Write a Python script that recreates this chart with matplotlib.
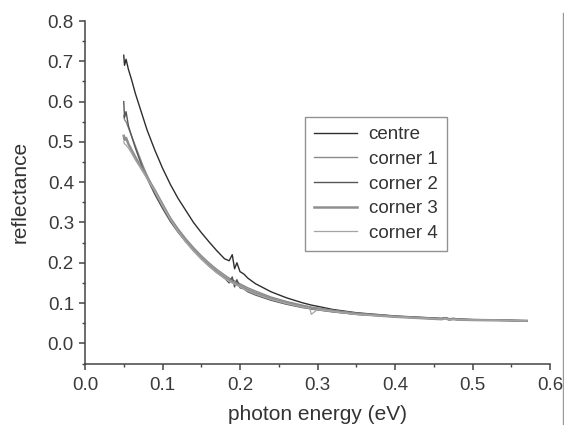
import matplotlib
matplotlib.use("Agg")
import matplotlib.pyplot as plt
from matplotlib.lines import Line2D
from matplotlib.ticker import MultipleLocator

plt.rcParams['font.family'] = ['Liberation Sans', 'DejaVu Sans']

energy = [0.050, 0.051, 0.053, 0.056, 0.060, 0.065, 0.070, 0.075, 0.080, 0.085,
          0.090, 0.100, 0.110, 0.120, 0.130, 0.140, 0.150, 0.160, 0.170, 0.180,
          0.186, 0.190, 0.193, 0.196, 0.200, 0.205, 0.210, 0.220, 0.240, 0.260,
          0.280, 0.290, 0.292, 0.300, 0.320, 0.350, 0.400, 0.450, 0.460, 0.465,
          0.470, 0.475, 0.480, 0.500, 0.540, 0.570]

centre = [0.715, 0.690, 0.705, 0.680, 0.655, 0.620, 0.590, 0.560, 0.530, 0.505,
          0.480, 0.435, 0.395, 0.360, 0.330, 0.300, 0.275, 0.252, 0.230, 0.210,
          0.205, 0.220, 0.185, 0.200, 0.178, 0.172, 0.162, 0.148, 0.128, 0.113,
          0.101, 0.096, 0.095, 0.092, 0.084, 0.076, 0.068, 0.063, 0.062, 0.064,
          0.061, 0.062, 0.061, 0.059, 0.058, 0.056]

corner1 = [0.565, 0.555, 0.550, 0.535, 0.515, 0.490, 0.465, 0.440, 0.418, 0.398,
           0.378, 0.343, 0.312, 0.285, 0.260, 0.238, 0.218, 0.200, 0.184, 0.170,
           0.162, 0.158, 0.155, 0.152, 0.148, 0.143, 0.138, 0.130, 0.115, 0.104,
           0.095, 0.091, 0.090, 0.088, 0.082, 0.075, 0.067, 0.062, 0.061, 0.063,
           0.060, 0.061, 0.060, 0.058, 0.057, 0.056]

corner2 = [0.600, 0.560, 0.575, 0.540, 0.515, 0.485, 0.458, 0.432, 0.410, 0.390,
           0.370, 0.335, 0.303, 0.276, 0.252, 0.230, 0.210, 0.192, 0.176, 0.162,
           0.150, 0.165, 0.140, 0.158, 0.138, 0.135, 0.128, 0.120, 0.107, 0.097,
           0.089, 0.086, 0.085, 0.083, 0.078, 0.072, 0.066, 0.061, 0.060, 0.063,
           0.058, 0.061, 0.059, 0.058, 0.057, 0.055]

corner3 = [0.515, 0.505, 0.510, 0.495, 0.480, 0.462, 0.445, 0.428, 0.412, 0.396,
           0.380, 0.345, 0.310, 0.280, 0.255, 0.232, 0.212, 0.194, 0.178, 0.164,
           0.157, 0.152, 0.150, 0.147, 0.143, 0.138, 0.133, 0.125, 0.111, 0.100,
           0.092, 0.088, 0.087, 0.085, 0.080, 0.073, 0.066, 0.061, 0.060, 0.062,
           0.059, 0.060, 0.059, 0.058, 0.057, 0.056]

corner4 = [0.500, 0.495, 0.492, 0.485, 0.472, 0.455, 0.440, 0.425, 0.410, 0.394,
           0.378, 0.342, 0.308, 0.278, 0.252, 0.229, 0.209, 0.191, 0.175, 0.161,
           0.154, 0.150, 0.147, 0.144, 0.140, 0.135, 0.130, 0.122, 0.109, 0.099,
           0.090, 0.087, 0.072, 0.084, 0.079, 0.072, 0.066, 0.061, 0.060, 0.062,
           0.059, 0.060, 0.059, 0.058, 0.057, 0.056]

labels = ['centre', 'corner 1', 'corner 2', 'corner 3', 'corner 4']
series = [centre, corner1, corner2, corner3, corner4]
colors = ['#2e2e2e', '#8a8a8a', '#555555', '#8f8f8f', '#a5a5a5']
widths = [1.0, 1.0, 1.0, 1.8, 0.9]

fig = plt.figure(figsize=(5.64, 4.25), dpi=100)
ax = fig.add_axes([85/564, 1-363.5/425, 465/564, (363.5-21)/425])

for y, lab, c, w in zip(series, labels, colors, widths):
    ax.plot(energy, y, color=c, lw=w, label=lab)

ax.set_xlim(0, 0.6)
ax.set_ylim(-0.05, 0.8)
ax.xaxis.set_major_locator(MultipleLocator(0.1))
ax.xaxis.set_minor_locator(MultipleLocator(0.05))
ax.yaxis.set_major_locator(MultipleLocator(0.1))
ax.yaxis.set_minor_locator(MultipleLocator(0.05))
ax.xaxis.set_major_formatter(plt.FuncFormatter(lambda v, p: f"{v:.1f}"))
ax.yaxis.set_major_formatter(plt.FuncFormatter(lambda v, p: f"{v:.1f}"))

for s in ['top', 'right']:
    ax.spines[s].set_visible(False)
for s in ['left', 'bottom']:
    ax.spines[s].set_color('#444444')
    ax.spines[s].set_linewidth(1.1)

ax.tick_params(which='major', direction='out', length=4, width=1.1,
               color='#444444', labelsize=13.5, labelcolor='#3a3a3a', pad=4)
ax.tick_params(axis='x', which='major', pad=6)
ax.tick_params(which='minor', direction='out', length=2.5, width=1.0,
               color='#444444')

ax.set_xlabel('photon energy (eV)', fontsize=15, color='#333333', labelpad=8)
ax.set_ylabel('reflectance', fontsize=15, color='#333333', labelpad=13)

leg = ax.legend(loc='upper left', bbox_to_anchor=(0.473, 0.72), fontsize=13.5,
                frameon=True, fancybox=False, edgecolor='#777777',
                handlelength=2.3, handletextpad=0.6, labelspacing=0.4,
                borderpad=0.5, borderaxespad=0)
leg.get_frame().set_linewidth(1.0)
for t in leg.get_texts():
    t.set_color('#333333')

fig.add_artist(Line2D([0.9975, 0.9975], [0.0, 0.97], transform=fig.transFigure,
                      color='#999999', lw=1.0))

fig.savefig('out.png', dpi=100)
